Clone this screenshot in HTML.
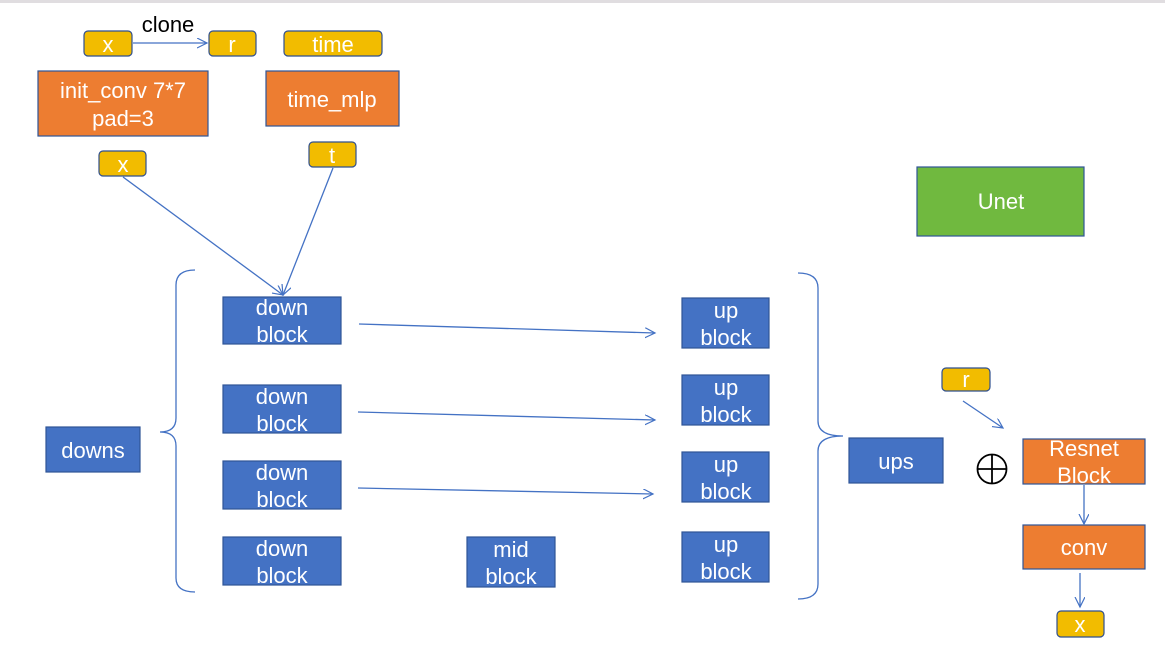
<!DOCTYPE html>
<html><head><meta charset="utf-8"><style>
html,body{margin:0;padding:0;background:#fff;}
svg{display:block;font-family:"Liberation Sans",Arial,sans-serif;}
</style></head><body>
<svg width="1165" height="662" viewBox="0 0 1165 662" xmlns="http://www.w3.org/2000/svg">
<defs>
<marker id="a" markerWidth="12" markerHeight="12" refX="10" refY="5" orient="auto" markerUnits="userSpaceOnUse">
<path d="M0,0 L10,5 L0,10" fill="none" stroke="#4472c4" stroke-width="1.2"/></marker>
</defs>
<rect x="0" y="0" width="1165" height="3" fill="#e0dde0"/>
<g fill="#f2bc00" stroke="#2f4f8f" stroke-width="1.2">
<rect x="84" y="31" width="48" height="25" rx="4"/>
<rect x="209" y="31" width="47" height="25" rx="4"/>
<rect x="284" y="31" width="98" height="25" rx="4"/>
<rect x="99" y="151" width="47" height="25" rx="4"/>
<rect x="309" y="142" width="47" height="25" rx="4"/>
<rect x="942" y="368" width="48" height="23" rx="4"/>
<rect x="1057" y="611" width="47" height="26" rx="4"/>
</g>
<g fill="#ed7d31" stroke="#2f5597" stroke-width="1.2">
<rect x="38" y="71" width="170" height="65"/>
<rect x="266" y="71" width="133" height="55"/>
<rect x="1023" y="439" width="122" height="45"/>
<rect x="1023" y="525" width="122" height="44"/>
</g>
<rect x="917" y="167" width="167" height="69" fill="#70b93f" stroke="#2f5597" stroke-width="1.2"/>
<g fill="#4472c4" stroke="#2f5597" stroke-width="1.2">
<rect x="223" y="297" width="118" height="47"/>
<rect x="223" y="385" width="118" height="48"/>
<rect x="223" y="461" width="118" height="48"/>
<rect x="223" y="537" width="118" height="48"/>
<rect x="46" y="427" width="94" height="45"/>
<rect x="467" y="537" width="88" height="50"/>
<rect x="682" y="298" width="87" height="50"/>
<rect x="682" y="375" width="87" height="50"/>
<rect x="682" y="452" width="87" height="50"/>
<rect x="682" y="532" width="87" height="50"/>
<rect x="849" y="438" width="94" height="45"/>
</g>
<g fill="none" stroke="#4472c4" stroke-width="1.3">
<path d="M195,270 Q176,270 176,285 L176,418 Q176,432 160,432 Q176,432 176,446 L176,578 Q176,592 195,592"/>
<path d="M798,273 Q818,273 818,288 L818,421 Q818,436 843,436 Q818,436 818,451 L818,584 Q818,599 798,599"/>
<line x1="133" y1="43" x2="207" y2="43" marker-end="url(#a)"/>
<line x1="123" y1="177" x2="283" y2="295" marker-end="url(#a)"/>
<line x1="333" y1="168" x2="283" y2="295" marker-end="url(#a)"/>
<line x1="359" y1="324" x2="655" y2="333" marker-end="url(#a)"/>
<line x1="358" y1="412" x2="655" y2="420" marker-end="url(#a)"/>
<line x1="358" y1="488" x2="653" y2="494" marker-end="url(#a)"/>
<line x1="963" y1="401" x2="1003" y2="428" marker-end="url(#a)"/>
<line x1="1084" y1="485" x2="1084" y2="524" marker-end="url(#a)"/>
<line x1="1080" y1="573" x2="1080" y2="607" marker-end="url(#a)"/>
</g>
<g fill="none" stroke="#000" stroke-width="1.8">
<circle cx="992" cy="469" r="14.5"/>
<line x1="977.5" y1="469" x2="1006.5" y2="469"/>
<line x1="992" y1="454.5" x2="992" y2="483.5"/>
</g>
<text x="168" y="32" font-size="22" text-anchor="middle" fill="#000">clone</text>
<g fill="#fff" font-size="22" text-anchor="middle">
<text x="108" y="52">x</text>
<text x="232" y="52">r</text>
<text x="333" y="52">time</text>
<text x="123" y="172">x</text>
<text x="332" y="163">t</text>
<text x="966" y="387">r</text>
<text x="1080" y="632">x</text>
<text x="123" y="98">init_conv 7*7</text>
<text x="123" y="126">pad=3</text>
<text x="332" y="107">time_mlp</text>
<text x="1001" y="209">Unet</text>
<text x="1084" y="456">Resnet</text>
<text x="1084" y="483">Block</text>
<text x="1084" y="555">conv</text>
<text x="93" y="458">downs</text>
<text x="896" y="469">ups</text>
<text x="282" y="315">down</text><text x="282" y="342">block</text>
<text x="282" y="404">down</text><text x="282" y="431">block</text>
<text x="282" y="480">down</text><text x="282" y="507">block</text>
<text x="282" y="556">down</text><text x="282" y="583">block</text>
<text x="511" y="557">mid</text><text x="511" y="584">block</text>
<text x="726" y="318">up</text><text x="726" y="345">block</text>
<text x="726" y="395">up</text><text x="726" y="422">block</text>
<text x="726" y="472">up</text><text x="726" y="499">block</text>
<text x="726" y="552">up</text><text x="726" y="579">block</text>
</g>
</svg>
</body></html>
